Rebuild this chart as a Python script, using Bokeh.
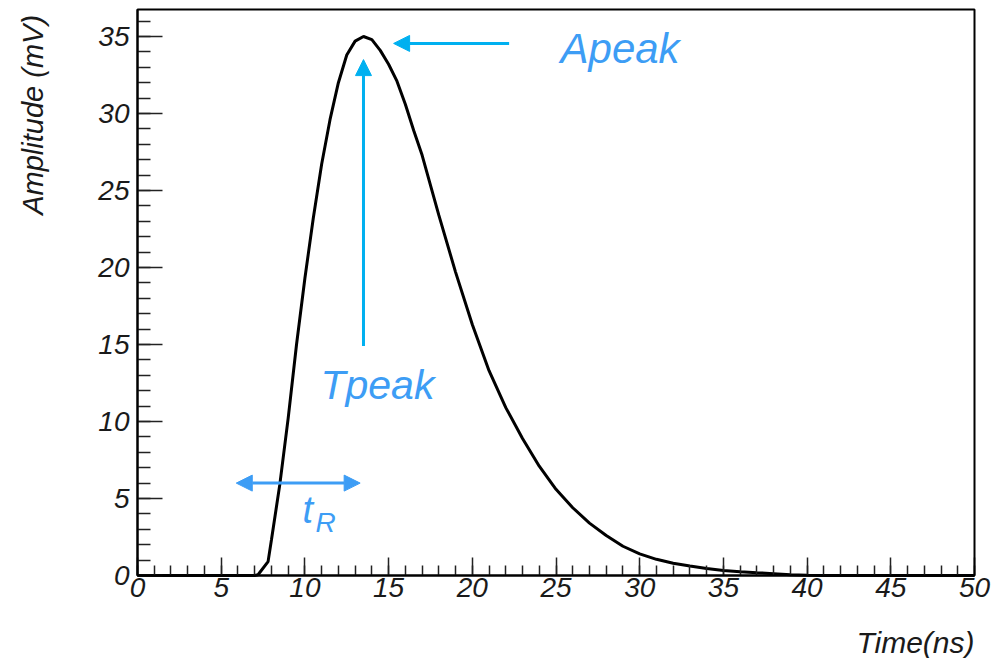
from bokeh.plotting import figure
from bokeh.models import (Range1d, SingleIntervalTicker, Label, Arrow, NormalHead,
                          ColumnDataSource, LinearAxis, BoxAnnotation)
from bokeh.embed import file_html
from bokeh.resources import INLINE

# Pulse waveform: time (ns) and amplitude (mV)
time_ns = [0.0, 7.0, 7.2, 7.8, 8.0, 8.5, 9.0, 9.5, 10.0, 10.5, 11.0, 11.5, 12.0,
           12.5, 13.0, 13.5, 14.0, 14.5, 15.0, 15.5, 16.0, 16.5, 17.0, 18.0, 19.0,
           20.0, 21.0, 22.0, 23.0, 24.0, 25.0, 26.0, 27.0, 28.0, 29.0, 30.0, 31.0,
           32.0, 33.0, 34.0, 35.0, 36.0, 37.0, 38.0, 39.0, 40.0, 41.0, 50.0]
amp_mv = [0.0, 0.0, 0.05, 0.9, 2.3, 5.9, 10.2, 15.0, 19.3, 23.2, 26.7, 29.6, 32.0,
          33.8, 34.7, 35.0, 34.8, 34.1, 33.2, 32.1, 30.6, 28.9, 27.3, 23.4, 19.7,
          16.3, 13.3, 10.9, 8.9, 7.1, 5.6, 4.4, 3.4, 2.6, 1.9, 1.4, 1.05,
          0.8, 0.62, 0.45, 0.33, 0.25, 0.18, 0.12, 0.05, 0.02, 0.0, 0.0]

# Annotated quantities
t_peak = 13.5
a_peak = 35.0
rise_start, rise_end, rise_level = 5.9, 13.3, 6.0

# Visible axis extents
T_MAX = 50.0
A_MAX = 36.75

FONT = "Liberation Sans"
BLUE = "#3d9df5"
CYAN = "#00b0f0"
INK = "#1a1a1a"

# The plotting area spans the whole canvas; the axes sit at t=0 and A=0 inside it
W, H = 999, 658
PX_T = 16.74      # pixels per ns
PX_A = 15.4       # pixels per mV
ORIGIN_X, ORIGIN_Y = 137, 575
x_range = Range1d(-ORIGIN_X / PX_T, (W - ORIGIN_X) / PX_T)
y_range = Range1d(-(H - ORIGIN_Y) / PX_A, ORIGIN_Y / PX_A)

p = figure(width=W, height=H, output_backend="svg", toolbar_location=None,
           x_range=x_range, y_range=y_range, x_axis_type=None, y_axis_type=None,
           min_border=0)
p.background_fill_color = "white"
p.border_fill_color = "white"
p.outline_line_color = None
p.xgrid.visible = False
p.ygrid.visible = False

xaxis = LinearAxis(fixed_location=0, bounds=(0, T_MAX),
                   ticker=SingleIntervalTicker(interval=5, num_minor_ticks=5))
yaxis = LinearAxis(fixed_location=0, bounds=(0, A_MAX),
                   ticker=SingleIntervalTicker(interval=5, num_minor_ticks=5))
for ax in (xaxis, yaxis):
    ax.axis_line_color = "black"
    ax.axis_line_width = 2
    ax.major_tick_out = 0
    ax.minor_tick_out = 0
    ax.major_tick_line_color = "#222222"
    ax.minor_tick_line_color = "#222222"
    ax.major_tick_line_width = 1.5
    ax.minor_tick_line_width = 1.5
    ax.major_label_text_font = FONT
    ax.major_label_text_font_style = "italic"
    ax.major_label_text_font_size = "28px"
    ax.major_label_text_color = INK
yaxis.major_tick_in = 25
yaxis.minor_tick_in = 13
xaxis.major_tick_in = 18
xaxis.minor_tick_in = 10
yaxis.major_label_standoff = 8
xaxis.major_label_standoff = 2
p.add_layout(xaxis, "below")
p.add_layout(yaxis, "left")

# Frame around the data area
p.add_layout(BoxAnnotation(left=0, right=T_MAX, bottom=0, top=A_MAX,
                           fill_alpha=0, line_color="black", line_alpha=1.0,
                           line_width=2))

src = ColumnDataSource(dict(t=time_ns, a=amp_mv))
p.line("t", "a", source=src, line_color="black", line_width=3)

# Peak amplitude arrow (horizontal) and peak time arrow (vertical)
p.add_layout(Arrow(end=NormalHead(size=16, fill_color=CYAN, line_color=CYAN),
                   x_start=22.2, y_start=34.55, x_end=15.3, y_end=34.55,
                   line_color=CYAN, line_width=3))
p.add_layout(Arrow(end=NormalHead(size=16, fill_color=CYAN, line_color=CYAN),
                   x_start=t_peak, y_start=14.9, x_end=t_peak, y_end=33.5,
                   line_color=CYAN, line_width=3))
# Rise time double arrow
p.add_layout(Arrow(start=NormalHead(size=16, fill_color=BLUE, line_color=BLUE),
                   end=NormalHead(size=16, fill_color=BLUE, line_color=BLUE),
                   x_start=rise_start, y_start=rise_level, x_end=rise_end, y_end=rise_level,
                   line_color=BLUE, line_width=3))

def label(x, y, text, size, color, rotated=False, **kw):
    # lift the text so that (x, y) falls on its baseline
    shift = 0.35 * size
    offsets = dict(x_offset=-shift) if rotated else dict(y_offset=shift)
    p.add_layout(Label(x=x, y=y, text=text, text_font=FONT, text_font_style="italic",
                       text_font_size=f"{size}px", text_color=color,
                       text_baseline="alphabetic", **offsets, **kw))

label(25.27, 33.25, "Apeak", 42, BLUE)
label(10.93, 11.43, "Tpeak", 41, BLUE)
label(9.86, 3.41, "t", 38, BLUE)
label(10.63, 2.79, "R", 28, BLUE)

# Axis titles at the far ends of the axes
label(T_MAX, -5.0, "Time(ns)", 30, INK, text_align="right")
label(-5.62, 36.4, "Amplitude (mV)", 29, INK, rotated=True, text_align="right",
      angle=1.5708)

open("out.html", "w").write(file_html(p, INLINE))
